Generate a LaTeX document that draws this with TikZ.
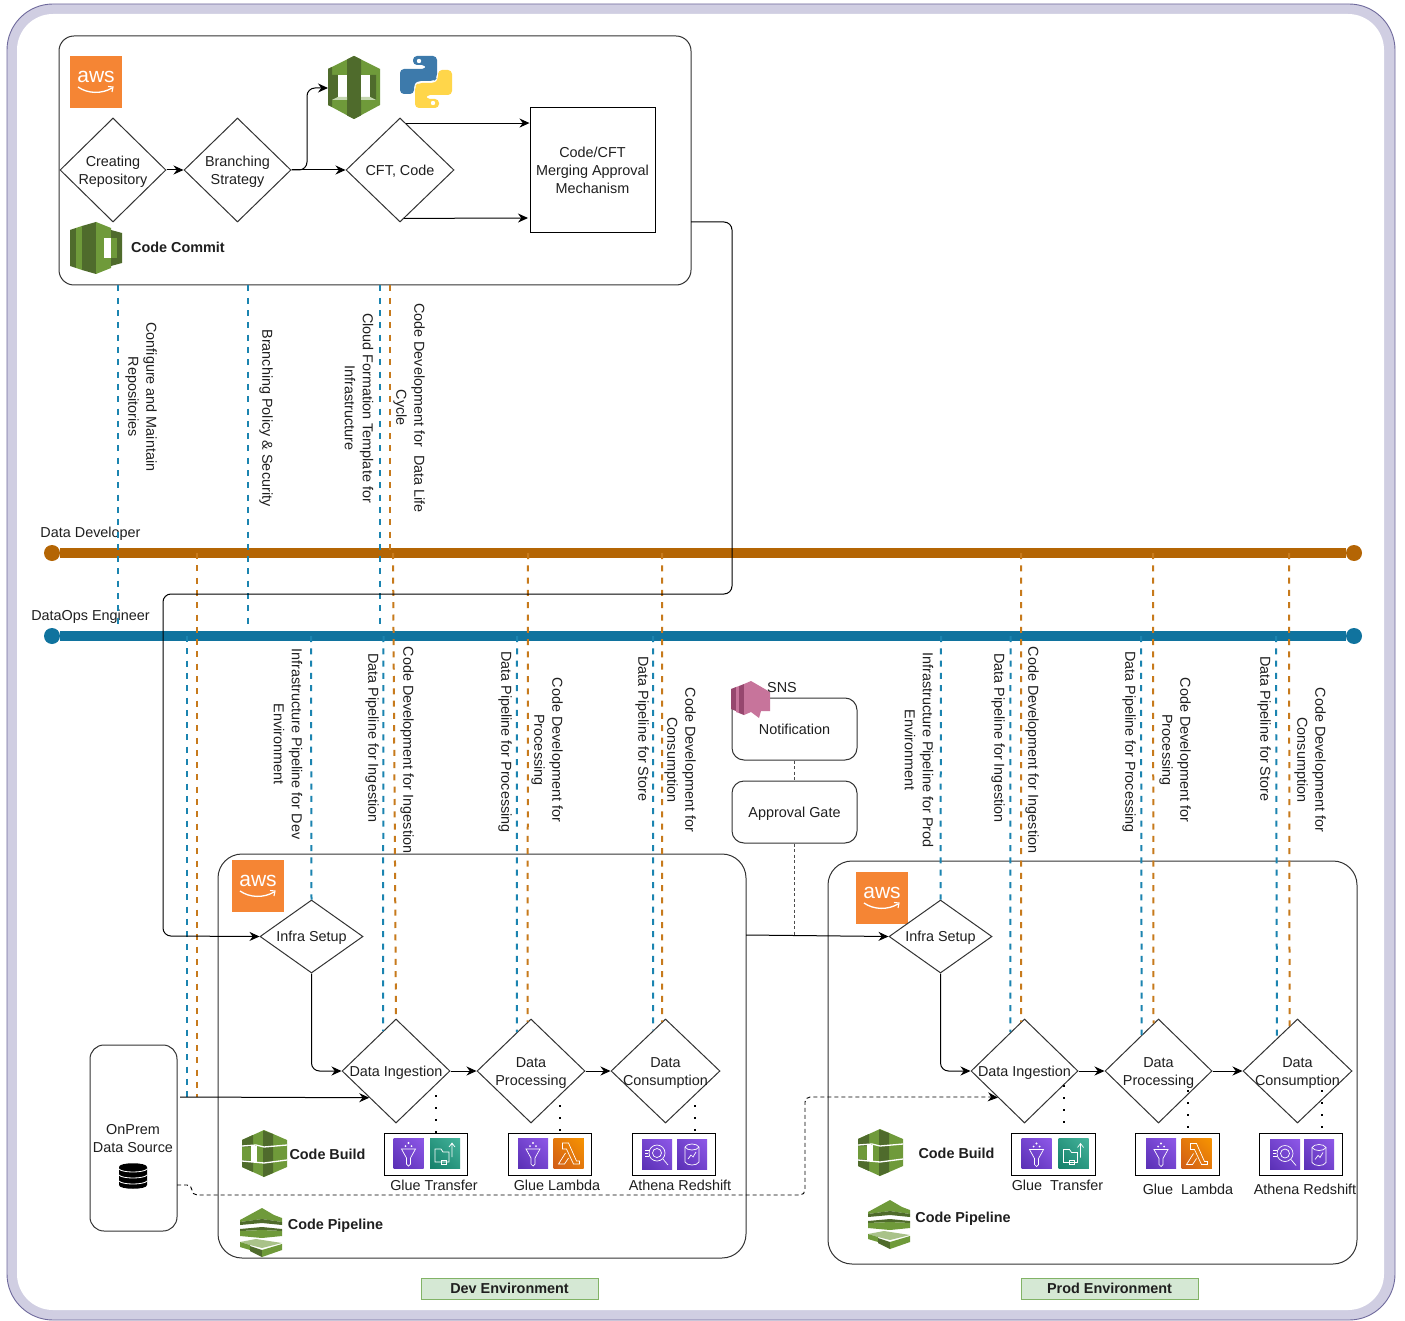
\documentclass[tikz,border=0pt]{standalone}
\usepackage{fontspec}
\setmainfont{Liberation Sans}
\usepackage{tikz}
\usetikzlibrary{arrows.meta}
\usetikzlibrary{shapes.geometric}
\usetikzlibrary{shadings}

\definecolor{frameLav}{HTML}{D0CEE2}
\definecolor{frameEdge}{HTML}{6F6A9C}
\definecolor{edgeDark}{HTML}{333333}
\definecolor{devBrown}{HTML}{B46504}
\definecolor{opsBlue}{HTML}{10739E}
\definecolor{devDash}{HTML}{C77A1C}
\definecolor{opsDash}{HTML}{1B84B0}
\definecolor{awsOrange}{HTML}{F58534}
\definecolor{awsGreen}{HTML}{6F9A3A}
\definecolor{awsDark}{HTML}{4F6B2C}
\definecolor{snsPink}{HTML}{C7749B}
\definecolor{snsDark}{HTML}{96476E}
\definecolor{pyBlue}{HTML}{3D7AAB}
\definecolor{pyYellow}{HTML}{FFD64A}
\definecolor{envFill}{HTML}{D5E8D4}
\definecolor{envEdge}{HTML}{82B366}
\definecolor{tilePurpleA}{HTML}{5A30B5}
\definecolor{tilePurpleB}{HTML}{8E58E8}
\definecolor{tileTealA}{HTML}{14806A}
\definecolor{tileTealB}{HTML}{45B39B}
\definecolor{tileOrangeA}{HTML}{D05C17}
\definecolor{tileOrangeB}{HTML}{F79400}

% square service tile, 30 by 30
\newcommand{\tile}[2]{\fill[#1!50!#2] (0,0) rectangle (30,30); \shade[lower left=#1, upper right=#2, lower right=#1!50!#2, upper left=#1!50!#2] (0,0) rectangle (30,30);}

\tikzset{
    awslogo/.pic={
        \fill[awsOrange] (0,0) rectangle (52,52);
        \node[text=white, font=\fontsize{21}{21}\selectfont, inner sep=0] (txt) at (26,21) {aws};
        \draw[white, line width=1.3pt] (8,31) .. controls (18,38) and (32,38) .. (42,32);
        \draw[white, line width=1.1pt] (38,30.5) -- (43,31) -- (42,36);
    },
    commitbig/.pic={
        \fill[awsGreen] (0,13) -- (26,0) -- (52,13) -- (52,49) -- (26,63) -- (0,49) -- cycle;
        \fill[awsDark] (19,3.5) -- (26,0) -- (33,3.5) -- (33,59.5) -- (26,63) -- (19,59.5) -- cycle;
        \fill[awsDark] (0,13) -- (4,11) -- (4,51) -- (0,49) -- cycle;
        \fill[awsDark] (4,19) -- (10,19) -- (10,41) -- (4,44) -- cycle;
        \fill[white] (10,19) rectangle (19,44);
        \fill[white!60!awsGreen] (4,44) -- (10,41) -- (19,41) -- (19,44) -- cycle;
        \fill[white] (33,19) rectangle (42,44);
        \fill[awsDark] (42,19) -- (48,19) -- (48,44) -- (42,41) -- cycle;
        \fill[white!60!awsGreen] (33,41) -- (42,41) -- (48,44) -- (33,44) -- cycle;
    },
    python/.pic={
        \fill[pyBlue, rounded corners=4pt] (13,0) -- (37,0) -- (37,22) -- (34,25) -- (17,25) -- (14,28) -- (14,38) -- (0,38) -- (0,13) -- (26,13) -- (26,9) -- (13,9) -- cycle;
        \fill[pyYellow, rounded corners=4pt] (39,52) -- (15,52) -- (15,30) -- (18,27) -- (35,27) -- (38,24) -- (38,14) -- (52,14) -- (52,39) -- (26,39) -- (26,43) -- (39,43) -- cycle;
        \fill[white] (19,5) circle (2.2);
        \fill[white] (33,47) circle (2.2);
    },
    commitsmall/.pic={
        \fill[awsDark] (0,8) -- (6,6) -- (6,46) -- (0,44) -- cycle;
        \fill[awsGreen] (6,6) -- (12,4) -- (12,48) -- (6,46) -- cycle;
        \fill[awsDark] (12,4) -- (26,0) -- (26,52) -- (12,48) -- cycle;
        \fill[awsGreen] (26,0) -- (41,6) -- (41,46) -- (26,52) -- cycle;
        \fill[awsDark] (41,8) -- (52,11) -- (52,41) -- (41,44) -- cycle;
        \fill[white] (34,16) rectangle (41,36);
        \fill[awsGreen] (41,16) rectangle (47,36);
    },
    codebuild/.pic={
        \fill[awsGreen] (0,10) -- (22,0) -- (45,10) -- (45,37) -- (22,47) -- (0,37) -- cycle;
        \fill[awsDark] (0,10) -- (11,5) -- (11,17) -- (0,17) -- cycle;
        \fill[awsDark] (0,30) -- (11,31) -- (11,42) -- (0,37) -- cycle;
        \fill[awsDark] (21,0.5) -- (31,4) -- (31,43) -- (21,47) -- cycle;
        \draw[white, line width=1.3pt] (0,16) -- (14,15) -- (22,17) -- (45,15);
        \draw[white, line width=1.3pt] (0,31) -- (22,33) -- (45,30);
        \fill[white] (9,16) rectangle (15,32);
        \fill[awsGreen] (3,19) rectangle (9,29);
    },
    codepipe/.pic={
        \fill[awsGreen] (0,12) -- (22,0) -- (34,7) -- (42,10) -- (42,14) -- (22,11) -- (0,14) -- cycle;
        \fill[awsDark] (0,14) -- (22,11) -- (42,14) -- (42,17) -- (22,15) -- (0,17) -- cycle;
        \fill[awsDark] (0,21) -- (22,19) -- (42,21) -- (42,23) -- (22,22) -- (0,23) -- cycle;
        \fill[awsGreen] (0,23) -- (22,22) -- (42,23) -- (42,28) -- (22,30) -- (0,28) -- cycle;
        \fill[awsGreen!60!white] (0,34) -- (16,31) -- (42,35) -- (22,40) -- (10,37) -- cycle;
        \fill[awsGreen] (0,34) -- (10,37) -- (10,42) -- (0,39) -- cycle;
        \fill[awsDark] (10,38) -- (22,42) -- (22,49) -- (10,43) -- cycle;
        \fill[awsGreen] (22,42) -- (42,36) -- (42,42) -- (22,49) -- cycle;
    },
    snsicon/.pic={
        \fill[snsDark] (0,8) -- (5,6) -- (5,30) -- (0,28) -- cycle;
        \fill[snsPink] (5,6) -- (8,5) -- (8,32) -- (5,31) -- cycle;
        \fill[snsDark] (8,5) -- (13,3) -- (13,34) -- (8,32) -- cycle;
        \fill[snsPink] (13,3) -- (20,0) -- (39,11) -- (39,30) -- (30,30) -- (28,37) -- (20,31) -- (13,34) -- cycle;
    },
    dbicon/.pic={
        \fill[black] (0,4) .. controls (0,-1) and (28,-1) .. (28,4) -- (28,22) .. controls (28,27) and (0,27) .. (0,22) -- cycle;
        \draw[white, line width=0.8pt] (0,6) .. controls (3,10) and (25,10) .. (28,6);
        \draw[white, line width=0.8pt] (0,12) .. controls (3,16) and (25,16) .. (28,12);
        \draw[white, line width=0.8pt] (0,18) .. controls (3,22) and (25,22) .. (28,18);
    },
    glue/.pic={
        \tile{tilePurpleA}{tilePurpleB}
        \draw[white, line width=0.7pt] (8,11) -- (22,11) -- (17,20) -- (17,26) -- (15,28) -- (13,26) -- (13,20) -- cycle;
        \fill[white] (12,8) circle (1);
        \fill[white] (15,5) circle (1.2);
        \fill[white] (18,8) circle (1);
    },
    transfer/.pic={
        \tile{tileTealA}{tileTealB}
        \draw[white, line width=0.7pt] (5,11) -- (11,11) -- (13,14) -- (19,14) -- (19,24) -- (5,24) -- cycle;
        \draw[white, line width=0.7pt] (22,19) -- (22,6) (19,9) -- (22,5) -- (25,9);
        \draw[white, line width=0.7pt] (11,22) rectangle (16,26);
    },
    lambda/.pic={
        \tile{tileOrangeA}{tileOrangeB}
        \draw[white, line width=0.7pt] (9,5) -- (15,5) -- (23,23) -- (26,23) -- (26,26) -- (20,26) -- (13,11) -- (9,11) -- cycle;
        \draw[white, line width=0.7pt] (12,15) -- (5,26) -- (11,26) -- (15,20);
    },
    athena/.pic={
        \tile{tilePurpleA}{tilePurpleB}
        \draw[white, line width=0.7pt] (15,14) circle (8);
        \draw[white, line width=0.7pt] (15,14) circle (4.5);
        \draw[white, line width=0.7pt] (21,20) -- (26,26);
        \draw[white, line width=0.7pt] (3,11) -- (7,11) (3,14) -- (6,14) (3,17) -- (7,17);
    },
    redshift/.pic={
        \tile{tilePurpleA}{tilePurpleB}
        \draw[white, line width=0.7pt] (8,8) .. controls (10,4) and (20,4) .. (22,8) -- (22,23) .. controls (20,27) and (10,27) .. (8,23) -- cycle;
        \draw[white, line width=0.7pt] (8,8) .. controls (10,12) and (20,12) .. (22,8);
        \draw[white, line width=0.7pt] (11,20) -- (14,16) -- (16,18) -- (19,13);
    },
}

\begin{document}
\begin{tikzpicture}[
            x=1pt, y=-1pt,
            every node/.style={text=black!88, font=\fontsize{14.4}{18}\selectfont, inner sep=0pt},
            big box/.style={draw=edgeDark, line width=1pt, rounded corners=#1, minimum width=0pt, minimum height=0pt},
            step node/.style={diamond, draw=edgeDark, line width=1pt, minimum width=108pt, minimum height=104pt, aspect=1},
            step text/.style={align=center, yshift=-1.7pt},
            side text/.style={rotate=-90, align=center},
            plain text/.style={align=center},
            bold text/.style={font=\fontsize{14.4}{18}\selectfont\bfseries},
            tool box/.style={draw=black, line width=1pt, minimum width=83pt, minimum height=42pt},
            env box/.style={draw=envEdge, fill=envFill, line width=1pt, minimum width=177pt, minimum height=21pt, font=\fontsize{14.4}{18}\selectfont\bfseries},
            gate box/.style={draw=edgeDark, line width=1pt, rounded corners=12pt, minimum width=125pt, minimum height=62pt, text depth=0pt},
            role dot/.style={circle, minimum size=16pt},
            flow/.style={draw=black, line width=1pt, -{Stealth[length=10pt,width=9pt]}, rounded corners=8pt},
            ops dash/.style={draw=opsDash, line width=2pt, dash pattern=on 6pt off 6.3pt},
            dev dash/.style={draw=devDash, line width=2pt, dash pattern=on 6pt off 6.3pt},
            dot line/.style={draw=black, line width=2pt, dash pattern=on 2pt off 10pt},
            gate line/.style={draw=black!70, line width=0.8pt, dash pattern=on 3pt off 2.5pt},
            data line/.style={draw=black, line width=0.9pt, dash pattern=on 4pt off 3pt, rounded corners=5pt},
            ]
            \useasboundingbox (0,0) rectangle (1405,1321);

            \fill[white] (0,0) rectangle (1405,1321);
            \draw[frameEdge, fill=frameLav, line width=0.9pt, rounded corners=46pt] (7,4) rectangle (1395,1320);
            \fill[white, rounded corners=36pt] (17,14) rectangle (1384,1310);

            % the three boxes
            \node[big box=15pt, minimum width=632pt, minimum height=249pt] (topbox) at (375,160.5) {};
            \node[big box=24pt, minimum width=528pt, minimum height=404pt] (devbox) at (482,1056) {};
            \node[big box=24pt, minimum width=529pt, minimum height=403pt] (prodbox) at (1092.5,1062.5) {};

            % role lines
            \node[role dot, fill=devBrown] (devleft) at (52,553) {};
            \node[role dot, fill=devBrown] (devright) at (1354,553) {};
            \node[role dot, fill=opsBlue] (opsleft) at (52,636) {};
            \node[role dot, fill=opsBlue] (opsright) at (1354,636) {};
            \draw[devBrown, line width=10pt] (devleft) -- (devright);
            \draw[opsBlue, line width=10pt] (opsleft) -- (opsright);
            \node[plain text] (devname) at (90.5,534) {Data Developer};
            \node[plain text] (opsname) at (90.5,617) {DataOps Engineer};

            % steps in code commit
            \node[step node, minimum width=106pt, label={[step text]center:Creating\\Repository}] (repo) at (113,170) {};
            \node[step node, minimum width=107pt, label={[step text]center:Branching\\Strategy}] (branch) at (237.5,170) {};
            \node[step node, label={[step text]center:CFT, Code}] (cft) at (400,170) {};
            \node[draw=black, line width=1pt, minimum width=125pt, minimum height=125pt, align=center] (merge) at (592.5,170.5) {Code/CFT\\Merging Approval\\Mechanism};

            \pic (awstop) at (70,56) {awslogo};
            \pic (commitone) at (328,56) {commitbig};
            \pic (pyone) at (400,56) {python};
            \pic (committwo) at (70,222) {commitsmall};
            \node[bold text] (commitname) at (178,247) {Code Commit};

            \draw[flow] (repo) -- (branch);
            \draw[flow] (branch.east) -- (cft);
            \coordinate (commitin) at (328,88);
            \draw[flow] (branch.east) -- (307,170) -- (307,88) -- (commitin);
            \draw[flow] (cft.83) -- (cft.83 -| merge.west);
            \draw[flow] (cft.-85) -- (528,218);

            % dev environment
            \pic (awsdev) at (232,860) {awslogo};
            \node[step node, minimum width=103pt, minimum height=73pt, label={[step text]center:Infra Setup}] (devinfra) at (311.5,936.5) {};
            \node[step node, label={[step text]center:Data Ingestion}] (deving) at (396,1071) {};
            \node[step node, label={[step text]center:Data\\Processing}] (devproc) at (531,1071) {};
            \node[step node, minimum width=109pt, label={[step text]center:Data\\Consumption}] (devcons) at (665.5,1071) {};

            \node[tool box] (devtoolone) at (425.5,1154) {};
            \node[tool box] (devtooltwo) at (549.5,1154) {};
            \node[tool box] (devtoolthree) at (673.5,1154) {};
            \pic (devglue) at (393.5,1138) {glue};
            \pic (devtransfer) at (430,1138) {transfer};
            \pic (devgluetwo) at (518,1138) {glue};
            \pic (devlambda) at (553.5,1138) {lambda};
            \pic (devathena) at (642,1139) {athena};
            \pic (devredshift) at (677,1139) {redshift};
            \node[plain text] (devtxtone) at (434,1185) {Glue Transfer};
            \node[plain text] (devtxttwo) at (557,1185) {Glue Lambda};
            \node[plain text] (devtxtthree) at (680,1185) {Athena Redshift};

            \pic (devbuild) at (242,1130) {codebuild};
            \node[bold text] (devbuildname) at (327.5,1154) {Code Build};
            \pic (devpipe) at (240,1208) {codepipe};
            \node[bold text] (devpipename) at (335.5,1226) {Code Pipeline};
            \node[env box] (devenv) at (509.5,1288.5) {Dev Environment};

            % prod environment
            \pic (awsprod) at (856,872) {awslogo};
            \node[step node, minimum width=103pt, minimum height=73pt, label={[step text]center:Infra Setup}] (prodinfra) at (940.5,936.5) {};
            \node[step node, minimum width=107pt, label={[step text]center:Data Ingestion}] (proding) at (1024.5,1071) {};
            \node[step node, minimum width=107pt, label={[step text]center:Data\\Processing}] (prodproc) at (1158.5,1071) {};
            \node[step node, minimum width=109pt, label={[step text]center:Data\\Consumption}] (prodcons) at (1297.5,1071) {};

            \node[tool box, minimum width=84pt] (prodtoolone) at (1053,1154) {};
            \node[tool box, minimum width=84pt] (prodtooltwo) at (1177,1154) {};
            \node[tool box] (prodtoolthree) at (1300.5,1154) {};
            \pic (prodglue) at (1021.5,1138.5) {glue};
            \pic (prodtransfer) at (1058.5,1138.5) {transfer};
            \pic (prodgluetwo) at (1146,1138.5) {glue};
            \pic (prodlambda) at (1181.5,1138.5) {lambda};
            \pic (prodathena) at (1270,1139.5) {athena};
            \pic (prodredshift) at (1304,1139.5) {redshift};
            \node[plain text] (prodtxtone) at (1057.5,1185) {Glue\ \ Transfer};
            \node[plain text] (prodtxttwo) at (1188,1189) {Glue\ \ Lambda};
            \node[plain text] (prodtxtthree) at (1305,1189) {Athena Redshift};

            \pic (prodbuild) at (858,1129) {codebuild};
            \node[bold text] (prodbuildname) at (956.5,1153.5) {Code Build};
            \pic (prodpipe) at (868,1200) {codepipe};
            \node[bold text] (prodpipename) at (963,1219) {Code Pipeline};
            \node[env box] (prodenv) at (1109.5,1288.5) {Prod Environment};

            % gate in the middle
            \node[gate box] (notify) at (794.5,729) {Notification};
            \node[gate box] (gate) at (794.5,812) {Approval Gate};
            \pic (snslogo) at (731,681) {snsicon};
            \node[plain text] (snsname) at (782,687.5) {SNS};

            % on prem source
            \node[big box=14pt, minimum width=87pt, minimum height=186pt] (onprem) at (133.5,1138) {};
            \node[plain text] (onpremname) at (133,1139) {OnPrem\\Data Source};
            \pic (onpremdb) at (119,1163) {dbicon};

            % duties hanging off the code commit box
            \coordinate (cfgend) at (118,626);
            \coordinate (polend) at (248,626);
            \coordinate (cftend) at (380,626);
            \coordinate (codeend) at (390,553);
            \draw[ops dash] (topbox.south -| cfgend) -- (cfgend);
            \draw[ops dash] (topbox.south -| polend) -- (polend);
            \draw[ops dash] (topbox.south -| cftend) -- (cftend);
            \draw[dev dash] (topbox.south -| codeend) -- (codeend);

            % duties going down to the steps
            \coordinate (srcout) at (180,1097);
            \coordinate (srcops) at (187,636);
            \coordinate (srcdev) at (197,553);
            \coordinate (devinfraops) at (311,636);
            \coordinate (devingops) at (383.5,636);
            \coordinate (devingdev) at (393,553);
            \coordinate (devprocops) at (517,636);
            \coordinate (devprocdev) at (528,553);
            \coordinate (devconsops) at (653,636);
            \coordinate (devconsdev) at (662,553);
            \coordinate (prodinfraops) at (941,636);
            \coordinate (prodingops) at (1010.5,636);
            \coordinate (prodingdev) at (1021,553);
            \coordinate (prodprocops) at (1141,636);
            \coordinate (prodprocdev) at (1153,553);
            \coordinate (prodconsops) at (1276,636);
            \coordinate (prodconsdev) at (1289,553);

            \draw[ops dash] (srcops) -- (187,1097);
            \draw[dev dash] (srcdev) -- (197,1097);
            \draw[ops dash] (devinfraops) -- (devinfra.north);
            \draw[ops dash] (devingops) -- (deving.108);
            \draw[dev dash] (devingdev) -- (deving.north);
            \draw[ops dash] (devprocops) -- (devproc.110);
            \draw[dev dash] (devprocdev) -- (devproc.94);
            \draw[ops dash] (devconsops) -- (devcons.107);
            \draw[dev dash] (devconsdev) -- (devcons.94);
            \draw[ops dash] (prodinfraops) -- (prodinfra.north);
            \draw[ops dash] (prodingops) -- (proding.110);
            \draw[dev dash] (prodingdev) -- (proding.94);
            \draw[ops dash] (prodprocops) -- (prodproc.115);
            \draw[dev dash] (prodprocdev) -- (prodproc.96);
            \draw[ops dash] (prodconsops) -- (prodcons.122);
            \draw[dev dash] (prodconsdev) -- (prodcons.100);

            % the other connectors
            \coordinate (commitout) at (691,222);
            \draw[flow] (commitout) -- (732,222) -- (732,594) -- (163,594) -- (163,936) -- (devinfra.west);
            \draw[flow] (devinfra.south) -- (311.5,1071) -- (deving.west);
            \draw[flow] (deving) -- (devproc);
            \draw[flow] (devproc) -- (devcons);
            \draw[flow] (srcout) -- (deving.-135);
            \coordinate (devout) at (746,935);
            \draw[flow] (devout) -- (prodinfra.west);
            \draw[flow] (prodinfra.south) -- (940.5,1071) -- (proding.west);
            \draw[flow] (proding) -- (prodproc);
            \draw[flow] (prodproc) -- (prodcons);
            \draw[gate line] (notify.south) -- (gate.north);
            \draw[gate line] (gate.south) -- (gate.south |- devout);
            \coordinate (srcdata) at (177,1185);
            \draw[data line] (srcdata) -- (192,1185) -- (192,1195) -- (805,1195) -- (805,1097) -- (990,1097);
            \draw[flow, line width=0.9pt] (990,1097) -- (proding.-135);

            % dotted links to the tools
            \coordinate (dotone) at (436,1095);
            \coordinate (dottwo) at (560,1105);
            \coordinate (dotthree) at (695,1105);
            \coordinate (dotfour) at (1063.5,1085);
            \coordinate (dotfive) at (1188,1090);
            \coordinate (dotsix) at (1322,1090);
            \draw[dot line] (dotone) -- (dotone |- devtoolone.north);
            \draw[dot line] (dottwo) -- (dottwo |- devtooltwo.north);
            \draw[dot line] (dotthree) -- (dotthree |- devtoolthree.north);
            \draw[dot line] (dotfour) -- (dotfour |- prodtoolone.north);
            \draw[dot line] (dotfive) -- (dotfive |- prodtooltwo.north);
            \draw[dot line] (dotsix) -- (dotsix |- prodtoolthree.north);

            % duty labels
            \node[side text] (lblcfg) at (141,397) {Configure and Maintain\\Repositories};
            \node[side text] (lblpol) at (266,418) {Branching Policy \& Security};
            \node[side text] (lblcft) at (359,408) {Cloud Formation Template for\\Infrastructure};
            \node[side text] (lblcode) at (409,408) {Code Development for\ \ Data Life\\Cycle};
            \node[side text] (lbldevinfra) at (288,744) {Infrastructure Pipeline for Dev\\Environment};
            \node[side text] (lbldeving) at (372,738) {Data Pipeline for Ingestion};
            \node[side text] (lbldevingcode) at (407,750) {Code Development for Ingestion};
            \node[side text] (lbldevproc) at (505,742) {Data Pipeline for Processing};
            \node[side text] (lbldevproccode) at (547,750) {Code Development for\\Processing};
            \node[side text] (lbldevstore) at (642,729) {Data Pipeline for Store};
            \node[side text] (lbldevcons) at (680,760) {Code Development for\\Consumption};
            \node[side text] (lblprodinfra) at (919,750) {Infrastructure Pipeline for Prod\\Environment};
            \node[side text] (lblproding) at (998,738) {Data Pipeline for Ingestion};
            \node[side text] (lblprodingcode) at (1032,750) {Code Development for Ingestion};
            \node[side text] (lblprodproc) at (1129,742) {Data Pipeline for Processing};
            \node[side text] (lblprodproccode) at (1175,750) {Code Development for\\Processing};
            \node[side text] (lblprodstore) at (1264,729) {Data Pipeline for Store};
            \node[side text] (lblprodcons) at (1310,760) {Code Development for\\Consumption};
        \end{tikzpicture}
\end{document}
